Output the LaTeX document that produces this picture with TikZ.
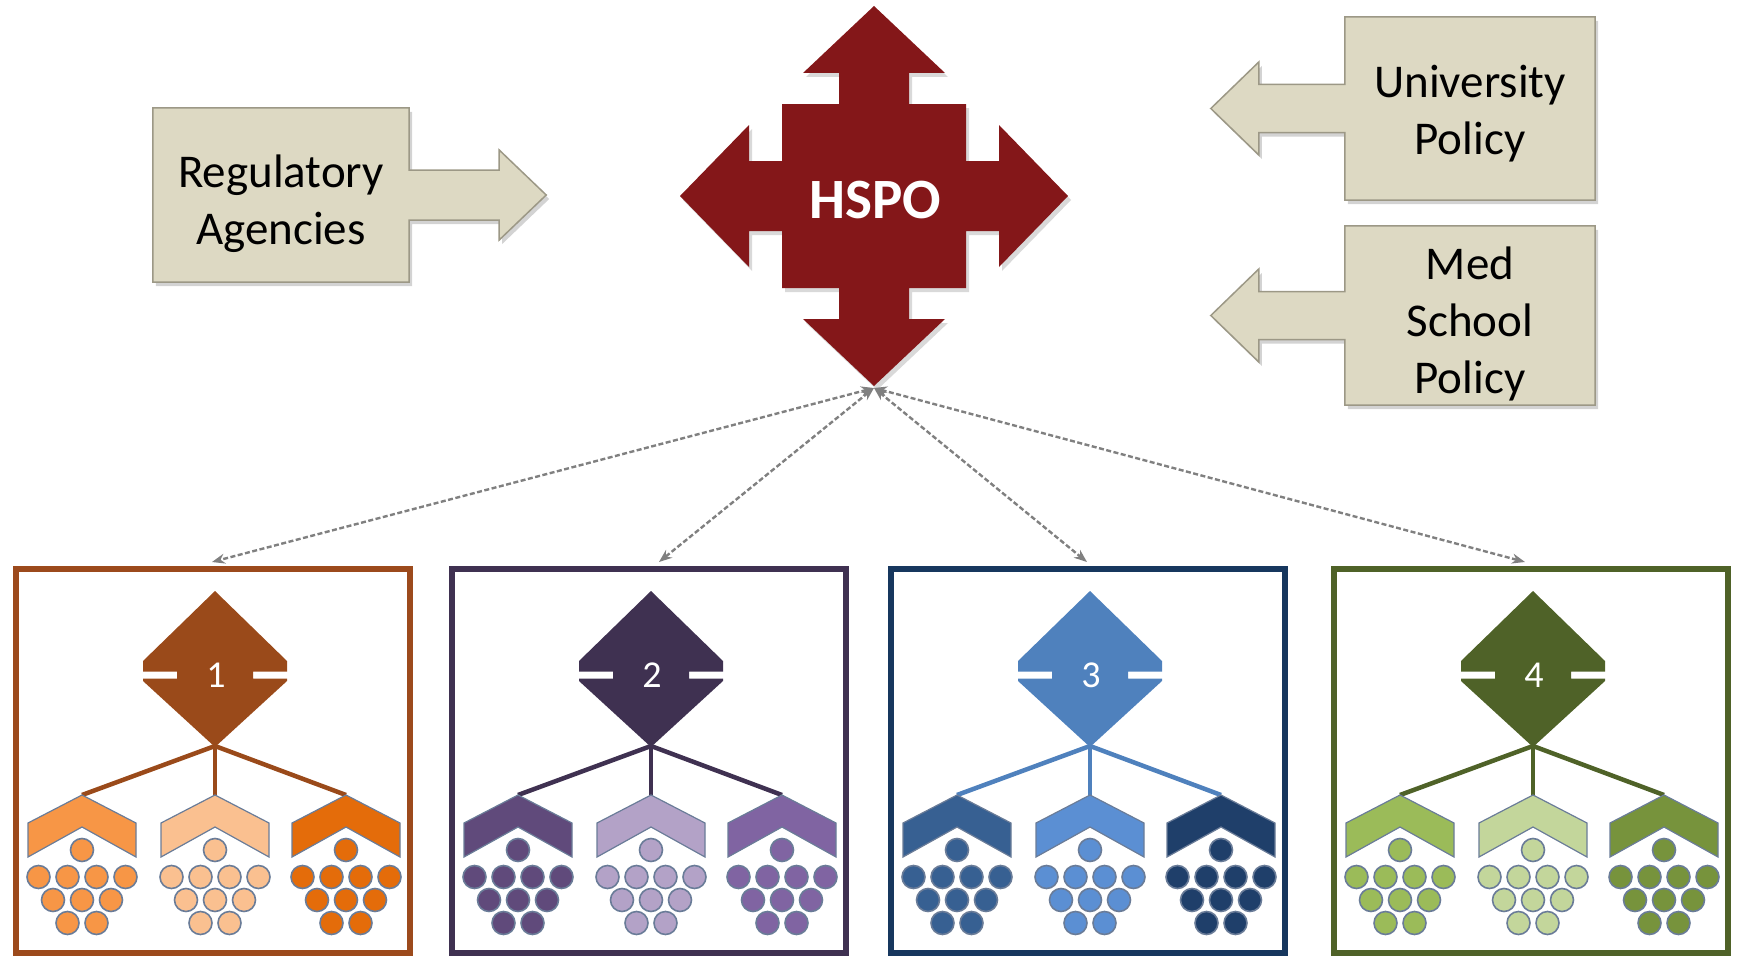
\documentclass[tikz,border=0pt]{standalone}
\usepackage{fontspec}
\setmainfont{Carlito}
\usetikzlibrary{arrows.meta,backgrounds,shadows}

\definecolor{hspored}{HTML}{841719}
\definecolor{beige}{HTML}{DDD9C3}
\definecolor{beigeline}{HTML}{9C9886}
\definecolor{linkgray}{HTML}{808080}
\definecolor{dotline}{HTML}{6A7C98}
% frame, diamond and the three teams of each group
\definecolor{frame1}{HTML}{9C4A1C}
\definecolor{dia1}{HTML}{9A4A1A}
\definecolor{teama1}{HTML}{F79646}
\definecolor{teamb1}{HTML}{FAC090}
\definecolor{teamc1}{HTML}{E46C0A}
\definecolor{frame2}{HTML}{3F3151}
\definecolor{dia2}{HTML}{3F3151}
\definecolor{teama2}{HTML}{604A7B}
\definecolor{teamb2}{HTML}{B3A2C7}
\definecolor{teamc2}{HTML}{8064A2}
\definecolor{frame3}{HTML}{17375E}
\definecolor{dia3}{HTML}{4F81BD}
\definecolor{teama3}{HTML}{376092}
\definecolor{teamb3}{HTML}{5B8FD3}
\definecolor{teamc3}{HTML}{1F3F6A}
\definecolor{frame4}{HTML}{4F6228}
\definecolor{dia4}{HTML}{4F6228}
\definecolor{teama4}{HTML}{9BBB59}
\definecolor{teamb4}{HTML}{C3D69B}
\definecolor{teamc4}{HTML}{77933C}

\begin{document}
\begin{tikzpicture}[x=1pt,y=-1pt,
    callbox/.style={inner sep=0pt},
    calltext/.style={align=center,inner sep=0pt,font=\fontsize{47}{57}\selectfont},
    callout/.style={fill=beige,draw=beigeline,line width=1.5pt,
        drop shadow={shadow xshift=3pt,shadow yshift=-4pt,opacity=.35}},
    grpbox/.style={line width=6pt,minimum width=394pt,minimum height=384pt,inner sep=0pt},
    numtext/.style={text=white,inner sep=0pt,font=\fontsize{38}{40}\selectfont},
    link/.style={draw=linkgray,line width=2.4pt,dash pattern=on 5pt off 2.5pt,
        {Stealth[length=13pt,width=10pt]}-{Stealth[length=13pt,width=10pt]}},
    branch/.style={line width=4.5pt},
    dot/.style={draw=dotline,line width=1.6pt}]
    \useasboundingbox (0,0) rectangle (1741,958);

    \node[callbox,minimum width=256pt,minimum height=174pt] (reg) at (281,195) {};
    \node[callbox,minimum width=250pt,minimum height=183pt] (uni) at (1470,108.5) {};
    \node[callbox,minimum width=250pt,minimum height=179pt] (med) at (1470,315.5) {};
    \path[callout] (reg.north west) -- (reg.north east) -- ([yshift=25pt]reg.east) -- ++(90,0) -- ++(0,-20)
        -- ++(47,45) -- ++(-47,45) -- ++(0,-20) -- ([yshift=-25pt]reg.east) -- (reg.south east) -- (reg.south west) -- cycle;
    \foreach \p in {uni,med}
        \path[callout] (\p.north east) -- (\p.north west) -- ([yshift=24pt]\p.west) -- ++(-86,0) -- ++(0,-22.5)
            -- ++(-48,46.5) -- ++(48,46.5) -- ++(0,-22.5) -- ([yshift=-24pt]\p.west) -- (\p.south west) -- (\p.south east) -- cycle;
    \node[calltext] (regtext) at ([yshift=-8.5pt]reg.center) {Regulatory\\Agencies};
    \node[calltext] (unitext) at ([yshift=-5.5pt]uni.center) {University\\Policy};
    \node[calltext] (medtext) at ([yshift=-8.5pt]med.center) {Med\\School\\Policy};

    % HSPO
    \fill[hspored,shift={(874,196)},drop shadow={shadow xshift=3pt,shadow yshift=-4pt,opacity=.3}]
        (0,-190) -- (71,-123) -- (35,-123) -- (35,-92) -- (92,-92) -- (92,-35) -- (125,-35) -- (125,-71)
        -- (194,0) -- (125,71) -- (125,35) -- (92,35) -- (92,92) -- (35,92) -- (35,123) -- (71,123)
        -- (0,190) -- (-71,123) -- (-35,123) -- (-35,92) -- (-92,92) -- (-92,35) -- (-125,35) -- (-125,71)
        -- (-194,0) -- (-125,-71) -- (-125,-35) -- (-92,-35) -- (-92,-92) -- (-35,-92) -- (-35,-123) -- (-71,-123) -- cycle;
    \node[text=white,font=\bfseries\fontsize{57}{60}\selectfont] (hspo) at (875,200) {HSPO};
    \coordinate (hspotip) at (874,388);

    \foreach \n/\gx/\ax in {1/213/-1, 2/649/10, 3/1088/-1, 4/1531/-6} {
        \node[grpbox,draw=frame\n] (grp\n) at (\gx,761) {};
        \draw[link] (hspotip) -- ([xshift=\ax pt,yshift=4pt]grp\n.north);
        \coordinate (fork\n) at (\gx+2,746);
        \foreach \k/\dx in {a/-131, b/2, c/133} {
            \coordinate (apex\n\k) at (\gx+\dx,795);
            \draw[branch,draw=dia\n] (fork\n) -- (apex\n\k);
            \filldraw[fill=team\k\n,draw=dotline,line width=1.2pt,shift={(apex\n\k)}]
                (0,0) -- (54,28) -- (54,62) -- (0,32) -- (-54,62) -- (-54,28) -- cycle;
            \foreach \px/\py in {0/55, -43.5/82, -14.5/82, 14.5/82, 43.5/82, -29/105, 0/105, 29/105, -14.5/128, 14.5/128}
                \filldraw[dot,fill=team\k\n] ([shift={(\px,\py)}]apex\n\k) circle[radius=11.5];
        }
        \fill[dia\n,shift={(\gx+2,675)}] (0,-84) -- (72,-14) -- (72,-3.5) -- (38,-3.5) -- (38,3.5) -- (72,3.5)
            -- (72,6) -- (0,72) -- (-72,6) -- (-72,3.5) -- (-38,3.5) -- (-38,-3.5) -- (-72,-3.5) -- (-72,-14) -- cycle;
        \node[numtext] (num\n) at (\gx+3,675) {\n};
    }
\end{tikzpicture}
\end{document}
